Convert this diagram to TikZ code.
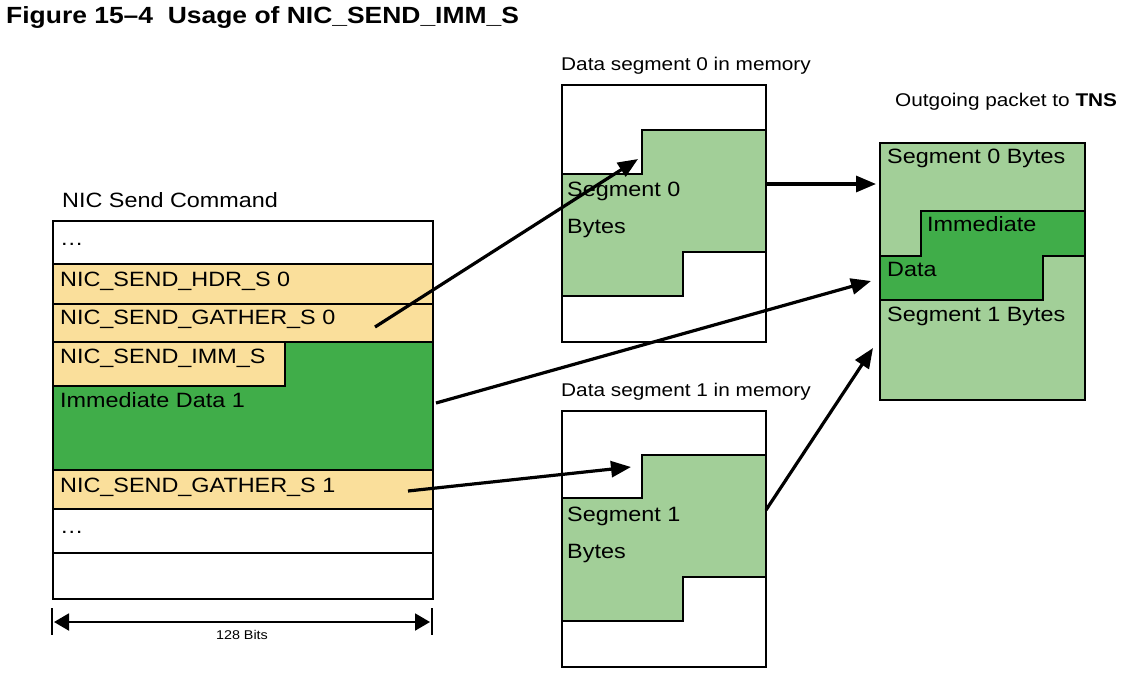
\documentclass[tikz,border=0pt]{standalone}
\usepackage{fontspec}
\setmainfont{Liberation Sans}[FakeStretch=1.13]
\usetikzlibrary{arrows.meta}
\definecolor{ylw}{HTML}{FADF9B}
\definecolor{lgreen}{HTML}{A2CF98}
\definecolor{dgreen}{HTML}{40AD49}
\begin{document}
\begin{tikzpicture}[x=1pt,y=-1pt,
  txt/.style={anchor=base west, inner sep=0pt, font=\fontsize{20.7}{24}\selectfont},
  lbl/.style={anchor=base west, inner sep=0pt, font=\fontsize{18.4}{22}\selectfont},
  bx/.style={draw, line width=2pt, inner sep=0pt, anchor=north west},
  ln/.style={line width=2pt},
  conn/.style={line width=3.2pt, -{Triangle[length=20pt,width=16pt]}},
  dim/.style={line width=2pt, {Triangle[length=15pt,width=17pt]}-{Triangle[length=15pt,width=17pt]}},
]
\useasboundingbox (0,0) rectangle (1126,681);

% title
\node[anchor=base west, inner sep=0pt, font=\bfseries\fontsize{23.4}{28}\selectfont] (title) at (6,23) {Figure 15–4\ \ Usage of NIC\_SEND\_IMM\_S};

% ---------- command stack ----------
\fill[dgreen] (52,342) rectangle (432,470);
\fill[ylw] (52,264) rectangle (432,342);
\fill[ylw] (52,342) rectangle (285,386);
\fill[ylw] (52,470) rectangle (432,509);
\draw[ln] (52,264)--(432,264) (52,304)--(432,304) (52,342)--(432,342)
          (52,470)--(432,470) (52,509)--(432,509) (52,553)--(432,553);
\draw[ln] (52,386)--(285,386)--(285,342);
\node[bx, minimum width=380pt, minimum height=378pt] (cmd) at (52,220) {};

\node[txt] (cmdlbl) at (62,207) {NIC Send Command};
\node[txt] (dots1) at (60,245) {…};
\node[txt] (hdr) at (60,286) {NIC\_SEND\_HDR\_S 0};
\node[txt] (g0) at (60,324) {NIC\_SEND\_GATHER\_S 0};
\node[txt] (imm) at (60,363) {NIC\_SEND\_IMM\_S};
\node[txt] (immd) at (60,407.5) {Immediate Data 1};
\node[txt] (g1) at (60,492) {NIC\_SEND\_GATHER\_S 1};
\node[txt] (dots2) at (60,533) {…};

% dimension
\draw[ln] (52,608)--(52,635) (432,608)--(432,635);
\coordinate (dl) at (54,622);
\coordinate (dr) at (430,622);
\draw[dim] (dl)--(dr);
\node[anchor=base, inner sep=0pt, font=\fontsize{12.7}{15}\selectfont] (bits) at (242,639) {128 Bits};

% ---------- data segment 0 ----------
\node[lbl] (s0lbl) at (561,70.7) {Data segment 0 in memory};
\fill[lgreen] (561,174)--(642,174)--(642,130)--(765,130)--(765,252)--(683,252)--(683,296)--(561,296)--cycle;
\draw[ln] (561,174)--(642,174)--(642,130)--(765,130) (765,252)--(683,252)--(683,296)--(561,296);
\node[bx, minimum width=204pt, minimum height=257pt] (seg0) at (561,84) {};
\node[txt] (s0a) at (567,196) {Segment 0};
\node[txt] (s0b) at (567,233.3) {Bytes};

% ---------- data segment 1 ----------
\node[lbl] (s1lbl) at (561,396) {Data segment 1 in memory};
\fill[lgreen] (561,498)--(642,498)--(642,455)--(765,455)--(765,577)--(683,577)--(683,621)--(561,621)--cycle;
\draw[ln] (561,498)--(642,498)--(642,455)--(765,455) (765,577)--(683,577)--(683,621)--(561,621);
\node[bx, minimum width=204pt, minimum height=256pt] (seg1) at (561,410) {};
\node[txt] (s1a) at (567,521) {Segment 1};
\node[txt] (s1b) at (567,558) {Bytes};

% ---------- outgoing packet ----------
\node[lbl] (pklbl) at (895,106) {Outgoing packet to \textbf{TNS}};
\fill[lgreen] (879,142) rectangle (1084,399);
\fill[dgreen] (879,256)--(921,256)--(921,211)--(1084,211)--(1084,256)--(1043,256)--(1043,300)--(879,300)--cycle;
\draw[ln] (879,256)--(921,256)--(921,211)--(1084,211) (1084,256)--(1043,256)--(1043,300)--(879,300);
\node[bx, minimum width=205pt, minimum height=257pt] (pkt) at (879,142) {};
\node[txt] (p0) at (887,163.3) {Segment 0 Bytes};
\node[txt] (pi) at (927,231.7) {Immediate};
\node[txt] (pd) at (887,276.7) {Data};
\node[txt] (p1) at (887,321) {Segment 1 Bytes};

% ---------- arrows ----------
\coordinate (a1s) at (375,327);  \coordinate (a1e) at (638,159);
\coordinate (a2s) at (765,184);  \coordinate (a2e) at (876,184);
\coordinate (a3s) at (436,403);  \coordinate (a3e) at (871,281);
\coordinate (a4s) at (408,491);  \coordinate (a4e) at (631,467);
\coordinate (a5s) at (766,510);  \coordinate (a5e) at (873,348);
\draw[conn] (a1s)--(a1e);
\draw[conn] (a2s)--(a2e);
\draw[conn] (a3s)--(a3e);
\draw[conn] (a4s)--(a4e);
\draw[conn] (a5s)--(a5e);
\end{tikzpicture}
\end{document}
